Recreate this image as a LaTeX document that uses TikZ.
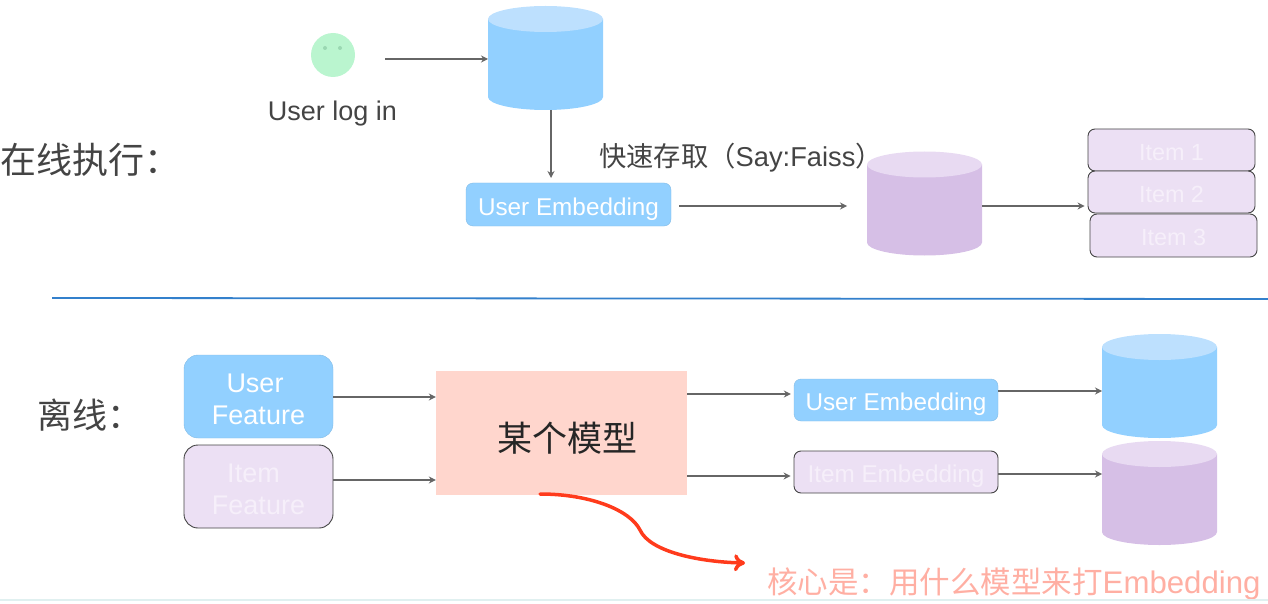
\documentclass[tikz,border=0pt]{standalone}
\usepackage{fontspec}
\setmainfont{Liberation Sans}
\newfontfamily\cjk{Noto Sans CJK SC}
\usetikzlibrary{arrows.meta}
\definecolor{bluefill}{HTML}{92D0FF}
\definecolor{bluetop}{HTML}{BDE0FE}
\definecolor{lilacbody}{HTML}{D6BFE6}
\definecolor{lilactop}{HTML}{E8DAF2}
\definecolor{lilacbox}{HTML}{ECE0F4}
\definecolor{lilactext}{HTML}{F6EFFA}
\definecolor{inkgray}{HTML}{444444}
\definecolor{linegray}{HTML}{666666}
\definecolor{salmon}{HTML}{FFD6CD}
\definecolor{redline}{HTML}{FF3B1C}
\definecolor{redtext}{HTML}{FFAFA3}
\definecolor{mint}{HTML}{BAF5CF}
\definecolor{minteye}{HTML}{9AD8B2}
\tikzset{
	flow/.style={draw=linegray,line width=1.9pt,-{Stealth[length=7pt,width=7pt]}},
	db/.style 2 args={minimum width=115pt,minimum height=104pt,inner sep=0pt,outer sep=0pt,path picture={
		\fill [#1] ([yshift=-13pt]path picture bounding box.north west) -- ([yshift=13pt]path picture bounding box.south west)
		arc [start angle=180,end angle=360,x radius=57.5pt,y radius=13pt] -- ([yshift=-13pt]path picture bounding box.north east) -- cycle;
		\fill [#2] ([yshift=-13pt]path picture bounding box.north) ellipse [x radius=57.5pt,y radius=13pt];}},
	bluedb/.style={db={bluefill}{bluetop}},
	lilacdb/.style={db={lilacbody}{lilactop}},
	bluebox/.style={draw=bluefill!90!black,fill=bluefill,rounded corners=7pt,text=white,inner sep=0pt,minimum width=205pt,minimum height=43pt,text height=21pt,text depth=0pt,font=\fontsize{24.3}{27}\selectfont},
	lilacbox/.style={draw=inkgray,line width=0.9pt,fill=lilacbox,rounded corners=7pt,text=lilactext,inner sep=0pt,minimum width=167pt,minimum height=42pt,text height=22pt,text depth=0pt,font=\fontsize{23.4}{27}\selectfont},
	featurebox/.style={minimum width=149pt,minimum height=83pt,rounded corners=14pt,align=center,font=\fontsize{27}{32}\selectfont}
}
\begin{document}
\begin{tikzpicture}[x=1pt,y=-1pt]
		\useasboundingbox (0,0) rectangle (1268,604);
		% online part
		\node [text=inkgray,anchor=west,inner sep=0pt,font=\cjk\fontsize{36}{40}\selectfont] (onlinelabel) at (0,160) {在线执行：};
		\node [circle,fill=mint,inner sep=0pt,minimum size=44pt] (face) at (333,55) {};
		\node [circle,fill=minteye,inner sep=0pt,minimum size=4pt] (lefteye) at (325,48) {};
		\node [circle,fill=minteye,inner sep=0pt,minimum size=4pt] (righteye) at (340,48) {};
		\node [text=inkgray,inner sep=0pt,font=\fontsize{27}{30}\selectfont] (loginlabel) at (332.5,114) {User log in};
		\node [bluedb] (onlinedb) at (545.5,58) {};
		\node [bluebox] (onlineuser) at (568.5,204.5) {User Embedding};
		\node [text=inkgray,inner sep=0pt,font=\fontsize{27.3}{30}\selectfont] (faisslabel) at (741,158) {{\cjk 快速存取（}Say:Faiss{\cjk ）}};
		\node [lilacdb] (onlinevec) at (924.5,203.5) {};
		\node [lilacbox] (itemone) at (1171.5,150) {Item 1};
		\node [lilacbox] (itemtwo) at (1171.5,192) {Item 2};
		\node [lilacbox,minimum height=43pt,text height=20pt] (itemthree) at (1173.5,235.5) {Item 3};
		\coordinate (loginout) at (385,59);
		\draw [flow] (loginout) -- (loginout -| onlinedb.west);
		\coordinate (dbout) at (551,110);
		\draw [flow] (dbout) -- (551,178);
		\draw [flow,shorten <=8pt,shorten >=20pt] (onlineuser.east |- 0,206) -- (onlinevec.west |- 0,206);
		\draw [flow,shorten >=3pt] (onlinevec.east |- 0,206) -- (itemtwo.west |- 0,206);
		% divider
		\coordinate (divleft) at (52,298);
		\coordinate (divright) at (1268,299);
		\draw [draw=blue!50!cyan!60!gray,line width=1.8pt] (divleft) -- (divright);
		% offline part
		\node [text=inkgray,anchor=west,inner sep=0pt,font=\cjk\fontsize{35}{40}\selectfont] (offlinelabel) at (37,415) {离线：};
		\node [featurebox,draw=bluefill!90!black,fill=bluefill,text=white] (userfeat) at (258.5,396.5) {\rule{0pt}{25pt}User\hspace*{7pt}\\Feature};
		\node [featurebox,draw=inkgray,line width=0.9pt,fill=lilacbox,text=lilactext] (itemfeat) at (258.5,486.5) {\rule{0pt}{25pt}Item\hspace*{10pt}\\Feature};
		\node [fill=salmon,minimum width=251pt,minimum height=124pt,inner sep=0pt,text=black!85,font=\cjk\fontsize{35}{40}\selectfont] (model) at (561.5,433) {\rule{0pt}{39pt}\hspace*{11pt}某个模型};
		\node [bluebox,minimum width=204pt,minimum height=42pt] (offuser) at (896,400) {User Embedding};
		\node [lilacbox,minimum width=204pt,text height=21pt,font=\fontsize{24.3}{27}\selectfont] (offitem) at (896,472) {Item Embedding};
		\node [bluedb] (offuserdb) at (1159.5,386) {};
		\node [lilacdb] (offitemdb) at (1159.5,493) {};
		\draw [flow] (userfeat.east |- 0,397) -- (model.west |- 0,397);
		\draw [flow] (itemfeat.east |- 0,480) -- (model.west |- 0,480);
		\draw [flow,shorten >=3pt] (model.east |- 0,394) -- (offuser.west |- 0,394);
		\draw [flow,shorten >=3pt] (model.east |- 0,476) -- (offitem.west |- 0,476);
		\draw [flow] (offuser.east |- 0,391) -- (offuserdb.west |- 0,391);
		\draw [flow] (offitem.east |- 0,474) -- (offitemdb.west |- 0,474);
		% red remark
		\node [text=redtext,anchor=west,inner sep=0pt,font=\fontsize{31.2}{32}\selectfont] (remark) at (767,584) {{\cjk\fontsize{30.5}{32}\selectfont 核心是：用什么模型来打}Embedding};
		\coordinate (curvestart) at (540,494);
		\coordinate (curvetip) at (745,563);
		\draw [draw=redline,line width=3.5pt,line cap=round,-{>[length=11pt,width=17pt,line width=3.5pt]}] (curvestart) .. controls (590,494) and (630,510) .. (640,530) .. controls (650,552) and (700,562) .. (curvetip);
		% bottom edge
		\coordinate (edgeleft) at (0,600);
		\coordinate (edgeright) at (1268,600);
		\draw [draw=teal!12!white,line width=1.5pt] (edgeleft) -- (edgeright);
\end{tikzpicture}
\end{document}
